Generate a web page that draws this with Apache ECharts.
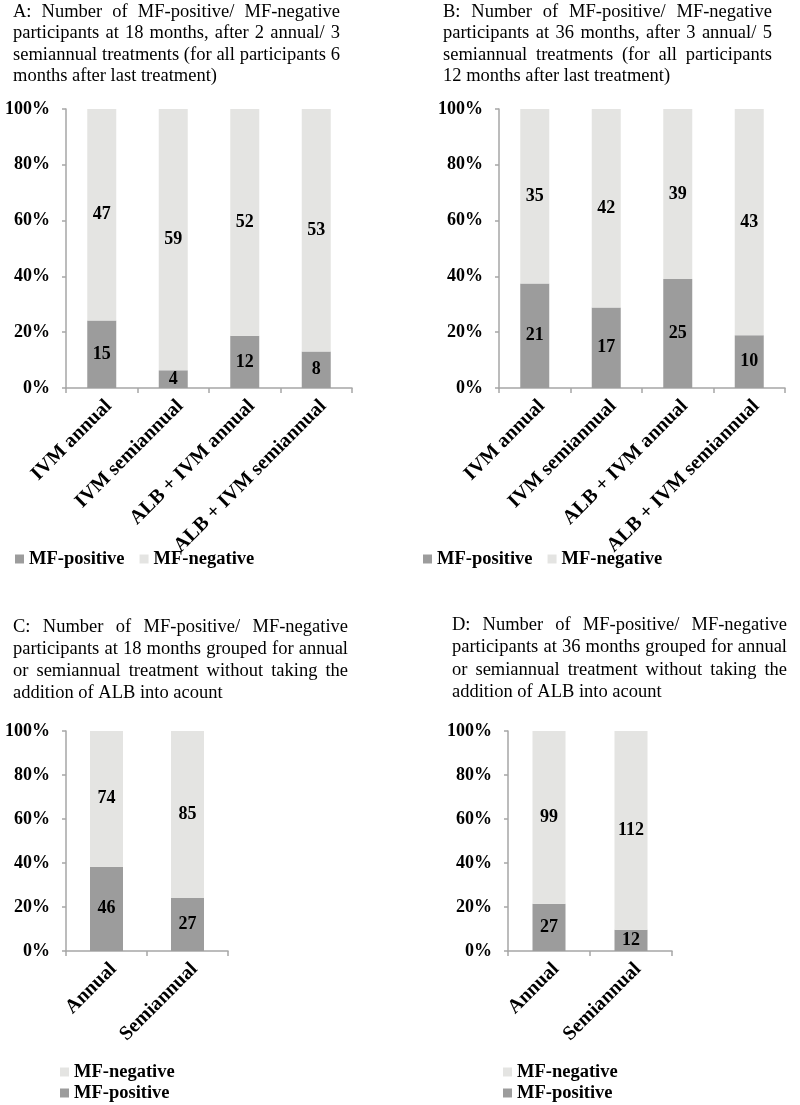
<!DOCTYPE html>
<html>
<head>
<meta charset="utf-8">
<script src="https://cdn.jsdelivr.net/npm/echarts@6/dist/echarts.min.js"></script>
<style>
html,body{margin:0;padding:0;background:#fff;}
#chart{width:800px;height:1105px;}
</style>
</head>
<body>
<div id="chart"></div>
<script>
// ---- data ----
const categoriesAB = ['IVM annual', 'IVM semiannual', 'ALB + IVM annual', 'ALB + IVM semiannual'];
const categoriesCD = ['Annual', 'Semiannual'];
const posA = [15, 4, 12, 8];
const negA = [47, 59, 52, 53];
const posB = [21, 17, 25, 10];
const negB = [35, 42, 39, 43];
const posC = [46, 27];
const negC = [74, 85];
const posD = [27, 12];
const negD = [99, 112];
const seriesNames = ['MF-positive', 'MF-negative'];
const titleA = ['A: Number of MF-positive/ MF-negative', 'participants at 18 months, after 2 annual/ 3', 'semiannual treatments (for all participants 6', 'months after last treatment)'];
const titleB = ['B: Number of MF-positive/ MF-negative', 'participants at 36 months, after 3 annual/ 5', 'semiannual treatments (for all participants', '12 months after last treatment)'];
const titleC = ['C: Number of MF-positive/ MF-negative', 'participants at 18 months grouped for annual', 'or semiannual treatment without taking the', 'addition of ALB into acount'];
const titleD = ['D: Number of MF-positive/ MF-negative', 'participants at 36 months grouped for annual', 'or semiannual treatment without taking the', 'addition of ALB into acount'];

// ---- style ----
const SERIF = '"Liberation Serif", "Times New Roman", serif';
const DARK = '#9c9c9c';
const LIGHT = '#e4e4e2';
const AXIS = '#a6a6a6';
const TSIZE = 18.5;

const measureCtx = document.createElement('canvas').getContext('2d');
measureCtx.font = TSIZE + 'px ' + SERIF;

function justifiedTitle(lines, left, right, ys) {
  const els = [];
  lines.forEach((line, li) => {
    const words = line.split(' ');
    const last = li === lines.length - 1;
    const widths = words.map(w => measureCtx.measureText(w).width);
    const total = widths.reduce((a, b) => a + b, 0);
    const gap = last || words.length < 2 ? measureCtx.measureText(' ').width : (right - left - total) / (words.length - 1);
    const rich = {};
    let str = '';
    words.forEach((w, i) => {
      const key = 'w' + i;
      const isLast = i === words.length - 1;
      rich[key] = { width: isLast ? widths[i] + 2 : widths[i] + gap, fontSize: TSIZE, fontFamily: SERIF, color: '#000' };
      str += '{' + key + '|' + w + (isLast ? '' : ' ') + '}';
    });
    els.push({
      type: 'text', x: left, y: ys[li], silent: true,
      style: { text: str, rich: rich, fill: '#000', fontSize: TSIZE, fontFamily: SERIF, align: 'left', verticalAlign: 'middle' }
    });
  });
  return els;
}

function pct(a, b) { return a.map((v, i) => v / (v + b[i]) * 100); }

const gridDefs = [
  { left: 66, top: 109, width: 286, height: 279 },
  { left: 499, top: 109, width: 286, height: 279 },
  { left: 66, top: 731, width: 162, height: 220 },
  { left: 508, top: 731, width: 164, height: 220 }
];
const cats = [categoriesAB, categoriesAB, categoriesCD, categoriesCD];
const pos = [posA, posB, posC, posD];
const neg = [negA, negB, negC, negD];
const barW = [29, 29, 33, 33];

const xAxes = [], yAxes = [], series = [];
for (let g = 0; g < 4; g++) {
  xAxes.push({
    type: 'category', gridIndex: g, data: cats[g],
    axisLine: { show: true, lineStyle: { color: AXIS, width: 1.5 } },
    axisTick: { show: true, length: 5, lineStyle: { color: AXIS, width: 1.5 } },
    axisLabel: { interval: 0, rotate: 45, margin: 8, verticalAlign: 'top', color: '#000', fontSize: 20, fontWeight: 'bold', fontFamily: SERIF }
  });
  yAxes.push({
    type: 'value', gridIndex: g, min: 0, max: 100, interval: 20,
    axisLine: { show: true, lineStyle: { color: AXIS, width: 1.5 } },
    axisTick: { show: true, length: 4, lineStyle: { color: AXIS, width: 1.5 } },
    splitLine: { show: false },
    axisLabel: { formatter: '{value}%', margin: 16, color: '#000', fontSize: 18, fontWeight: 'bold', fontFamily: SERIF }
  });
  const counts = [pos[g], neg[g]];
  const vals = [pct(pos[g], neg[g]), pct(neg[g], pos[g])];
  [0, 1].forEach(s => {
    series.push({
      name: seriesNames[s], type: 'bar', stack: 'g' + g,
      xAxisIndex: g, yAxisIndex: g, barWidth: barW[g],
      data: vals[s],
      itemStyle: { color: s === 0 ? DARK : LIGHT },
      emphasis: { disabled: true },
      label: {
        show: true, position: 'inside', color: '#000', fontSize: 18, fontWeight: 'bold', fontFamily: SERIF,
        formatter: p => String(counts[s][p.dataIndex])
      }
    });
  });
}

const legendText = { color: '#000', fontSize: 18.5, fontWeight: 'bold', fontFamily: SERIF, lineHeight: 19 };
const legends = [
  { left: 15, top: 549.5, orient: 'horizontal', itemGap: 15, data: ['MF-positive', 'MF-negative'] },
  { left: 423, top: 549.5, orient: 'horizontal', itemGap: 15, data: ['MF-positive', 'MF-negative'] },
  { left: 60, top: 1062.5, orient: 'vertical', itemGap: 2, data: ['MF-negative', 'MF-positive'] },
  { left: 503, top: 1062.5, orient: 'vertical', itemGap: 2, data: ['MF-negative', 'MF-positive'] }
].map(l => Object.assign(l, { icon: 'rect', itemWidth: 9, itemHeight: 9, padding: 0, textStyle: legendText, selectedMode: false }));

const graphics = [].concat(
  justifiedTitle(titleA, 13, 340, [12, 33.5, 55, 76.5]),
  justifiedTitle(titleB, 443, 772, [12, 33.5, 55, 76.5]),
  justifiedTitle(titleC, 13, 348, [627, 649, 671, 693]),
  justifiedTitle(titleD, 452, 787, [625, 647.5, 670, 692])
);

const chart = echarts.init(document.getElementById('chart'), null, { renderer: 'canvas' });
chart.setOption({
  backgroundColor: '#fff',
  animation: false,
  grid: gridDefs,
  xAxis: xAxes,
  yAxis: yAxes,
  legend: legends,
  series: series,
  graphic: graphics
});
</script>
</body>
</html>
